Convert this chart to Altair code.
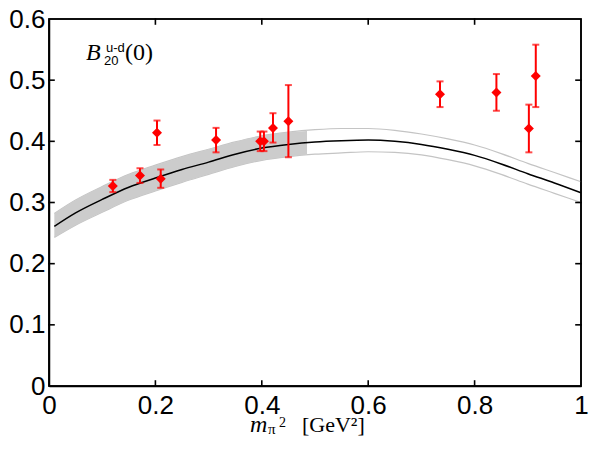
import altair as alt
import pandas as pd

# ---- data ----
curve_x = [0.01, 0.05, 0.1, 0.15, 0.2, 0.25, 0.3, 0.35, 0.4, 0.45, 0.5,
           0.55, 0.6, 0.65, 0.7, 0.75, 0.8, 0.85, 0.9, 0.95, 1.0]
curve_c = [0.261, 0.283, 0.305, 0.325, 0.340, 0.354, 0.366, 0.379, 0.389, 0.395, 0.399,
           0.401, 0.402, 0.400, 0.395, 0.387, 0.377, 0.363, 0.347, 0.332, 0.316]
curve_hi = [0.282, 0.304, 0.326, 0.346, 0.361, 0.375, 0.387, 0.399, 0.409, 0.415, 0.419,
            0.421, 0.421, 0.418, 0.412, 0.404, 0.394, 0.380, 0.364, 0.349, 0.334]
curve_lo = [0.243, 0.263, 0.284, 0.304, 0.319, 0.333, 0.346, 0.359, 0.369, 0.375, 0.379,
            0.381, 0.383, 0.382, 0.378, 0.370, 0.360, 0.346, 0.330, 0.315, 0.300]

band_x = [0.01, 0.05, 0.1, 0.15, 0.2, 0.25, 0.3, 0.35, 0.4, 0.45, 0.485]
band_hi = [0.282, 0.304, 0.326, 0.346, 0.361, 0.375, 0.387, 0.399, 0.409, 0.415, 0.417]
band_lo = [0.243, 0.263, 0.284, 0.304, 0.319, 0.333, 0.346, 0.359, 0.369, 0.375, 0.378]

pt_x = [0.120, 0.171, 0.203, 0.210, 0.314, 0.397, 0.404, 0.421, 0.450, 0.735, 0.841, 0.902, 0.915]
pt_y = [0.327, 0.344, 0.414, 0.339, 0.402, 0.400, 0.400, 0.422, 0.433, 0.477, 0.480, 0.421, 0.507]
pt_err = [0.010, 0.012, 0.020, 0.015, 0.020, 0.016, 0.016, 0.024, 0.059, 0.021, 0.030, 0.039, 0.051]

x_labels = [0, 0.2, 0.4, 0.6, 0.8, 1]
y_labels = [0, 0.1, 0.2, 0.3, 0.4, 0.5, 0.6]
x_ticks = [0.2, 0.4, 0.6, 0.8]
y_ticks = [0.1, 0.2, 0.3, 0.4, 0.5]
x_range = [0, 1]
y_range = [0, 0.6]

label_B = ["B"]
label_sub = ["20"]
label_sup = ["u-d"]
label_arg = ["(0)"]
xt_m = ["m"]
xt_pi = ["π"]
xt_2 = ["2"]
xt_unit = ["[GeV²]"]

W, H = 532, 367
TICK = 5  # px
RED = "#ff0000"

xs = alt.Scale(domain=x_range, nice=False, zero=False)
ys = alt.Scale(domain=y_range, nice=False, zero=False)
xaxis = alt.Axis(values=x_labels, format="~g", title=None, grid=False, ticks=False,
                 domain=True, domainColor="black", domainWidth=1.5,
                 labelFontSize=26, labelFont="Liberation Sans",
                 labelColor="black", labelPadding=6, labelFlush=False)
yaxis = alt.Axis(values=y_labels, format="~g", title=None, grid=False, ticks=False,
                 domain=True, domainColor="black", domainWidth=1.5,
                 labelFontSize=26, labelFont="Liberation Sans",
                 labelColor="black", labelPadding=4, labelFlush=False)


def X(f):
    return alt.X(f, type="quantitative", scale=xs, axis=xaxis)


def Y(f):
    return alt.Y(f, type="quantitative", scale=ys, axis=yaxis)


curve_df = pd.DataFrame({"x": curve_x, "c": curve_c, "hi": curve_hi, "lo": curve_lo})
band_df = pd.DataFrame({"x": band_x, "hi": band_hi, "lo": band_lo})
pts_df = pd.DataFrame({"x": pt_x, "y": pt_y, "err": pt_err})
pts_df["lo"] = pts_df["y"] - pts_df["err"]
pts_df["hi"] = pts_df["y"] + pts_df["err"]

thin_hi = alt.Chart(curve_df).mark_line(color="#c4c4c4", strokeWidth=1.2, interpolate="monotone").encode(
    x=X("x"), y=Y("hi"))
thin_lo = alt.Chart(curve_df).mark_line(color="#c4c4c4", strokeWidth=1.2, interpolate="monotone").encode(
    x=X("x"), y=Y("lo"))
band = alt.Chart(band_df).mark_area(color="#cccccc", opacity=1, interpolate="monotone").encode(
    x=X("x"), y=Y("hi"), y2="lo:Q")
center = alt.Chart(curve_df).mark_line(color="black", strokeWidth=1.5, interpolate="monotone").encode(
    x=X("x"), y=Y("c"))

ebar = alt.Chart(pts_df).mark_rule(color=RED, strokeWidth=2).encode(
    x=X("x"), y=Y("lo"), y2="hi:Q")
cap_lo = alt.Chart(pts_df).mark_tick(color=RED, orient="horizontal", size=7, thickness=2).encode(
    x=X("x"), y=Y("lo"))
cap_hi = alt.Chart(pts_df).mark_tick(color=RED, orient="horizontal", size=7, thickness=2).encode(
    x=X("x"), y=Y("hi"))
points = alt.Chart(pts_df).mark_point(shape="diamond", filled=True, color=RED, size=100, opacity=1).encode(
    x=X("x"), y=Y("y"))

# frame and inward ticks drawn as line segments (seg id + order)
x0, x1 = x_range
y0, y1 = y_range
dy = TICK / H * (y1 - y0)
dx = TICK / W * (x1 - x0)
rows = []
for i, (a, b) in enumerate([(x0, y0), (x1, y0), (x1, y1), (x0, y1), (x0, y0)]):
    rows.append({"seg": "frame", "o": i, "px": a, "py": b})
k = 0
for t in x_ticks:
    for (ya, yb) in [(y0, y0 + dy), (y1, y1 - dy)]:
        rows.append({"seg": f"t{k}", "o": 0, "px": t, "py": ya})
        rows.append({"seg": f"t{k}", "o": 1, "px": t, "py": yb})
        k += 1
for t in y_ticks:
    for (xa, xb) in [(x0, x0 + dx), (x1, x1 - dx)]:
        rows.append({"seg": f"t{k}", "o": 0, "px": xa, "py": t})
        rows.append({"seg": f"t{k}", "o": 1, "px": xb, "py": t})
        k += 1
seg_df = pd.DataFrame(rows)
frame = alt.Chart(seg_df).mark_line(color="black", strokeWidth=1.6, strokeCap="square").encode(
    x=X("px"), y=Y("py"), detail="seg:N", order="o:Q")


def txt(lst, px, py, font, size, style="normal"):
    return alt.Chart(pd.DataFrame({"t": lst})).mark_text(
        align="left", baseline="alphabetic", font=font, fontSize=size,
        fontStyle=style, color="black").encode(
        text="t:N", x=alt.value(px), y=alt.value(py))


ann = [
    txt(label_B, 37, 41, "Liberation Serif", 24, "italic"),
    txt(label_sub, 55, 46, "Liberation Sans", 13),
    txt(label_sup, 57, 33, "Liberation Sans", 13),
    txt(label_arg, 76, 41, "Liberation Serif", 24),
    txt(xt_m, 201, H + 46, "Liberation Serif", 24, "italic"),
    txt(xt_pi, 219, H + 48, "Liberation Serif", 15),
    txt(xt_2, 230, H + 41, "Liberation Serif", 14),
    txt(xt_unit, 253, H + 46, "Liberation Serif", 22),
]

chart = alt.layer(
    thin_hi, thin_lo, band, center,
    ebar, cap_lo, cap_hi, points, frame, *ann
).properties(
    width=W, height=H,
    autosize=alt.AutoSizeParams(type="none"),
    padding={"left": 41, "top": 11, "right": 8, "bottom": 52},
).configure_view(stroke="black", strokeWidth=1.5)

chart.save("out.html", embed_options={"renderer": "svg", "actions": False})
